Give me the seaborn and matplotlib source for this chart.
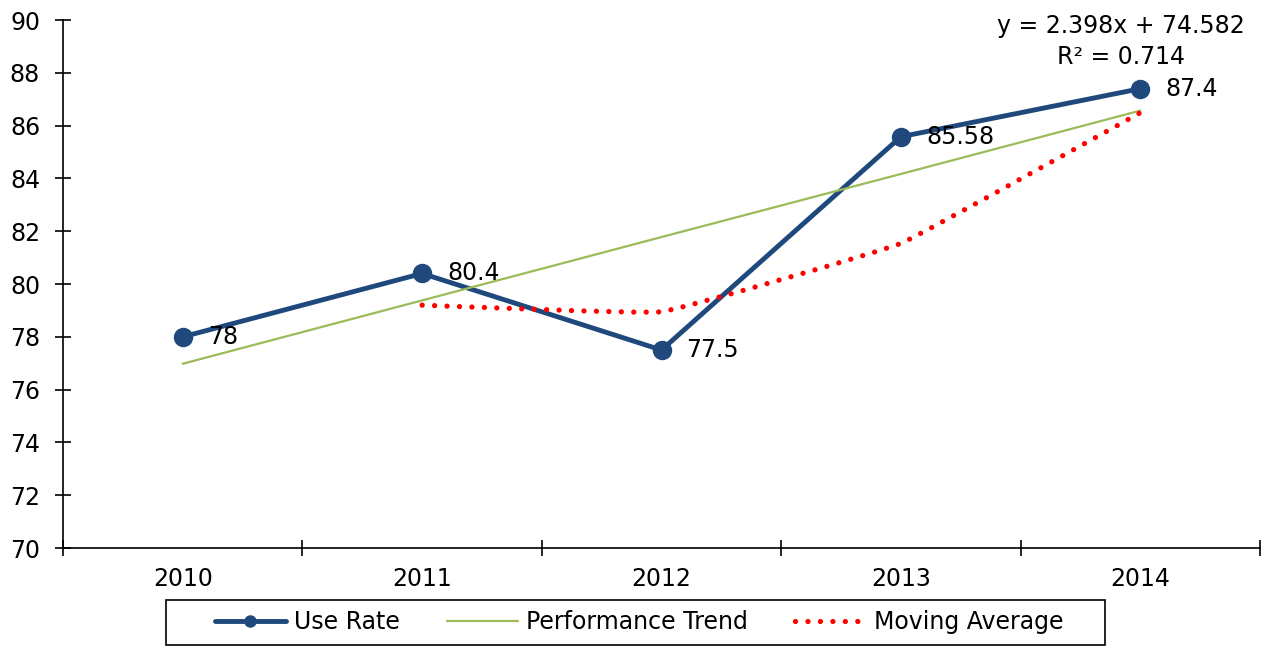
import numpy as np
import pandas as pd
import matplotlib
matplotlib.use('Agg')
import matplotlib.pyplot as plt
import seaborn as sns
from matplotlib.path import Path
from matplotlib.patches import PathPatch, Rectangle
from matplotlib.lines import Line2D

# Data
years = ['2010', '2011', '2012', '2013', '2014']
use_rate = [78, 80.4, 77.5, 85.58, 87.4]
trend = [76.98, 79.38, 81.78, 84.17, 86.57]
moving_avg_years = ['2011', '2012', '2013', '2014']
moving_avg = [79.2, 78.95, 81.54, 86.49]
equation = 'y = 2.398x + 74.582\nR² = 0.714'

BLUE = '#1F497D'
GREEN = '#9BBB59'
RED = '#FF0000'
DOTS = (0, (0.01, 2.35))
FS = 17

sns.set_style('white')
plt.rcParams['font.family'] = ['DejaVu Sans']
plt.rcParams['text.color'] = 'black'
plt.rcParams['xtick.color'] = 'black'
plt.rcParams['ytick.color'] = 'black'

fig = plt.figure(figsize=(12.68, 6.47), dpi=100)
ax = fig.add_axes([0.0497, 0.153, 0.944, 0.816])

df = pd.DataFrame({'pos': np.arange(len(years)), 'Use Rate': use_rate, 'Trend': trend})

sns.lineplot(data=df, x='pos', y='Use Rate', ax=ax, color=BLUE, lw=3.5,
             marker='o', markersize=14, markeredgewidth=0, zorder=2)
sns.lineplot(data=df, x='pos', y='Trend', ax=ax, color=GREEN, lw=1.6, zorder=3)

# smoothed moving average (bezier through the points, light tension)
tension = 0.04
ma_x = np.array([years.index(y) for y in moving_avg_years], dtype=float)
pts = np.column_stack([ma_x, moving_avg])
n = len(pts)
verts = [pts[0]]
codes = [Path.MOVETO]
for i in range(n - 1):
    p_prev = pts[max(i - 1, 0)]
    p0 = pts[i]
    p1 = pts[i + 1]
    p_next = pts[min(i + 2, n - 1)]
    c1 = p0 + (p1 - p_prev) * tension
    c2 = p1 - (p_next - p0) * tension
    verts += [c1, c2, p1]
    codes += [Path.CURVE4] * 3
patch = PathPatch(Path(verts, codes), fill=False, edgecolor=RED, lw=3.8,
                  linestyle=DOTS, capstyle='round', zorder=4)
ax.add_patch(patch)

# data labels
for i, v in enumerate(use_rate):
    ax.annotate(f'{v:g}', (i, v), xytext=(18, 0), textcoords='offset points',
                ha='left', va='center', fontsize=FS, zorder=5)

ax.text(3.92, 89.2, equation, ha='center', va='center', fontsize=FS,
        linespacing=1.37, clip_on=False)

ax.set_xlim(-0.5, len(years) - 0.5)
ax.set_ylim(70, 90)
ax.set_yticks(np.arange(70, 91, 2))
ax.set_xticks(np.arange(-0.5, len(years), 1))
ax.set_xticklabels([])
ax.set_xticks(np.arange(len(years)), minor=True)
ax.set_xticklabels(years, minor=True)
ax.set_xlabel('')
ax.set_ylabel('')

ax.tick_params(axis='y', which='major', left=True, direction='inout', length=11,
               width=1.2, pad=11, labelsize=FS)
ax.tick_params(axis='x', which='major', bottom=True, direction='inout', length=11,
               width=1.2)
ax.tick_params(axis='x', which='minor', bottom=True, length=0, pad=14, labelsize=FS)

sns.despine(ax=ax)
for s in ['left', 'bottom']:
    ax.spines[s].set_linewidth(1.2)
    ax.spines[s].set_color('black')

handles = [
    Line2D([], [], color=BLUE, lw=3.5, marker='o', markersize=9, markeredgewidth=0),
    Line2D([], [], color=GREEN, lw=1.6),
    Line2D([], [], color=RED, lw=3.8, linestyle=DOTS, dash_capstyle='round'),
]
labels = ['Use Rate', 'Performance Trend', 'Moving Average']
leg = fig.legend(handles, labels, loc='center', bbox_to_anchor=(0.504, 0.038),
                 ncol=3, frameon=False, fontsize=FS,
                 handlelength=3.0, handletextpad=0.34, columnspacing=2.0)
fig.patches.append(Rectangle((166 / 1268, 2 / 647), 939 / 1268, 45 / 647,
                             transform=fig.transFigure, fill=False,
                             edgecolor='black', lw=1.2))

fig.savefig('out.png', dpi=100)
